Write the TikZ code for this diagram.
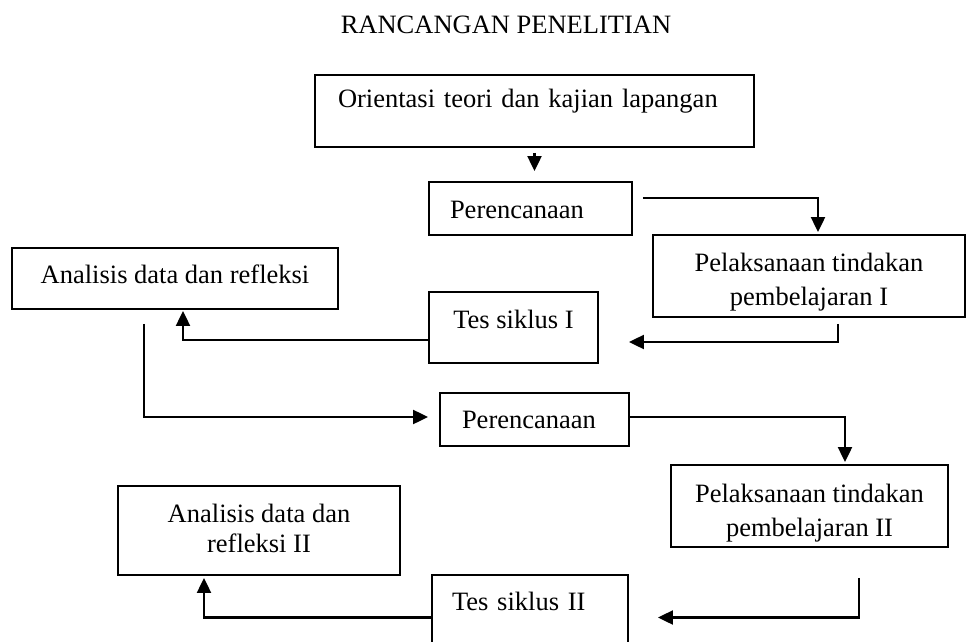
\documentclass[tikz,border=0pt]{standalone}
\usepackage{fontspec}
\setmainfont{Liberation Serif}
\usetikzlibrary{arrows.meta, positioning}

\begin{document}
\begin{tikzpicture}[
    x=1pt, y=-1pt,
    font=\fontsize{26.5}{34}\selectfont,
    % Styles - plain black boxes, heavy arrows
    box/.style={rectangle, line width=1.9pt, draw=black, fill=white, inner sep=0pt, align=center, text height=19pt, text=black},
    arrow/.style={line width=2.2pt, -{Triangle[length=15pt, width=14pt]}, color=black},
    heading/.style={draw=none, fill=none, text=black}
]

% Page frame (the last boxes run off the page)
\clip (0,0) rectangle (966,642);

% Title
\node[heading] (title) at (506,25) {RANCANGAN PENELITIAN};

% ==========================================================================================
% SIKLUS I
% ==========================================================================================

% Orientation - text sits top left
\node[box, minimum width=439pt, minimum height=72pt, text width=393pt, align=left, text depth=27pt] (orient) at (534.5,111) {Orientasi teori dan kajian lapangan};

% Planning I
\node[box, minimum width=203pt, minimum height=53pt, text width=161pt, align=left, text depth=0pt] (plan_one) at (530.5,208.5) {Perencanaan};

% Action I (two lines: height covers the upper line)
\node[box, minimum width=312pt, minimum height=82pt, text height=60pt, text depth=2pt] (act_one) at (809,276) {Pelaksanaan tindakan\\pembelajaran I};

% Test I
\node[box, minimum width=169pt, minimum height=71pt, text depth=18pt] (test_one) at (513.5,327.5) {Tes siklus I};

% Analysis I
\node[box, minimum width=326pt, minimum height=61pt, text depth=10pt] (anal_one) at (175,278.5) {Analisis data dan refleksi};

% Arrows
\draw[arrow, shorten <=5pt, shorten >=10pt] (orient.south) -- (orient.south |- plan_one.north);
\draw[arrow, shorten <=10pt, shorten >=2pt] ([yshift=10.5pt]plan_one.east) -| ([xshift=9pt]act_one.north);
\draw[arrow, shorten <=6pt] ([xshift=29pt]act_one.south) |- ([xshift=30pt, yshift=-14.5pt]test_one.east);
\draw[arrow, shorten >=1pt] ([yshift=-12.5pt]test_one.west) -| ([xshift=8pt]anal_one.south);

% ==========================================================================================
% SIKLUS II
% ==========================================================================================

% Planning II
\node[box, minimum width=189pt, minimum height=53pt, text width=145pt, align=left, text depth=2pt] (plan_two) at (534.5,419.5) {Perencanaan};

% Action II
\node[box, minimum width=277pt, minimum height=82pt, text height=62pt, text depth=2pt] (act_two) at (809.5,506) {Pelaksanaan tindakan\\pembelajaran II};

% Test II - bottom edge off the page
\node[box, minimum width=196pt, minimum height=85pt, text width=156pt, align=left, text depth=34pt] (test_two) at (530,617.5) {Tes siklus II};

% Analysis II
\node[box, minimum width=282pt, minimum height=89pt, text height=45pt, text depth=2pt] (anal_two) at (259,530.5) {Analisis data dan\\[-4pt]refleksi II};

% Arrows
\draw[arrow, shorten <=14pt, shorten >=11pt] ([xshift=-31pt]anal_one.south) |- ([yshift=2.5pt]plan_two.west);
\draw[arrow, shorten >=2pt] ([yshift=2.5pt]plan_two.east) -| ([xshift=35.5pt]act_two.north);
\draw[arrow, shorten <=30pt, shorten >=29pt] ([xshift=49.5pt]act_two.south) |- (test_two.east);
\draw[arrow, shorten >=2pt] (test_two.west) -| ([xshift=-55pt]anal_two.south);

\end{tikzpicture}
\end{document}
